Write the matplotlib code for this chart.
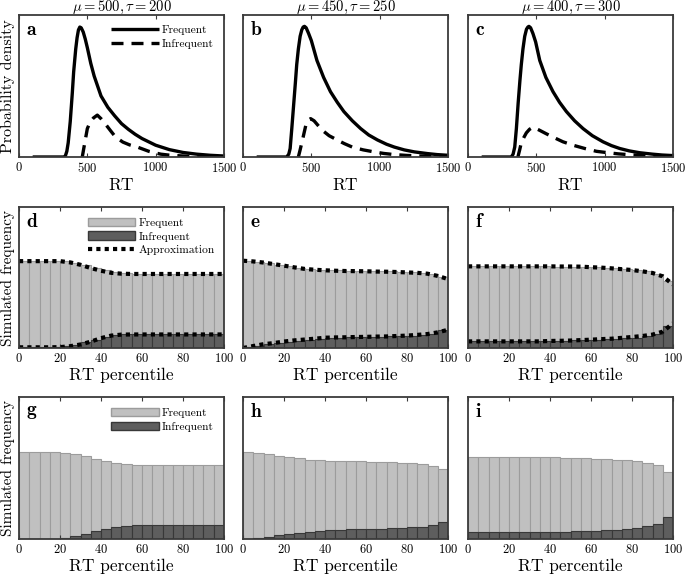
import matplotlib
matplotlib.use("Agg")
import matplotlib.pyplot as plt
from matplotlib.patches import Patch
from matplotlib.lines import Line2D
import numpy as np

plt.rcParams['font.family'] = 'cmr10'
plt.rcParams['mathtext.fontset'] = 'cm'
plt.rcParams['axes.unicode_minus'] = False
plt.rcParams['axes.formatter.use_mathtext'] = True

# ---- top row: densities ----
titles = [r'$\mu = 500, \tau = 200$', r'$\mu = 450, \tau = 250$', r'$\mu = 400, \tau = 300$']
letters = ['a', 'b', 'c', 'd', 'e', 'f', 'g', 'h', 'i']

rt_a = [100, 300, 330, 340, 350, 360, 375, 390, 400, 415, 425, 435, 445, 455, 470, 485, 500, 525, 550,
        600, 650, 700, 750, 800, 850, 900, 1000, 1100, 1200, 1300, 1400, 1500]
freq_a = [0, 0, 0, 0.01, 0.04, 0.1, 0.25, 0.45, 0.6, 0.76, 0.84, 0.895, 0.915, 0.91, 0.88, 0.83, 0.77,
          0.66, 0.57, 0.43, 0.35, 0.29, 0.235, 0.195, 0.16, 0.13, 0.083, 0.052, 0.032, 0.02, 0.012, 0.007]
rt_a_inf = [463, 472, 485, 500, 520, 545, 573, 600, 630, 670, 707, 760, 810, 866, 950, 1037, 1100, 1200, 1300, 1500]
inf_a = [0, 0.05, 0.12, 0.2, 0.245, 0.275, 0.295, 0.27, 0.235, 0.185, 0.14, 0.105, 0.085, 0.07, 0.04,
         0.02, 0.013, 0.007, 0.004, 0.001]

rt_b = [100, 320, 335, 345, 357, 370, 383, 393, 405, 418, 430, 440, 450, 462, 480, 500, 541, 590, 640,
        690, 738, 800, 861, 920, 984, 1050, 1107, 1180, 1254, 1350, 1420, 1500]
freq_b = [0, 0, 0.02, 0.06, 0.2, 0.36, 0.52, 0.65, 0.76, 0.85, 0.895, 0.915, 0.92, 0.91, 0.87, 0.82,
          0.68, 0.56, 0.46, 0.385, 0.32, 0.255, 0.2, 0.155, 0.12, 0.09, 0.07, 0.05, 0.036, 0.024, 0.017, 0.012]
rt_b_inf = [405, 418, 440, 460, 480, 495, 520, 578, 630, 689, 740, 799, 880, 959, 1030, 1107, 1200, 1300, 1500]
inf_b = [0, 0.05, 0.14, 0.225, 0.262, 0.27, 0.255, 0.19, 0.15, 0.12, 0.095, 0.07, 0.05, 0.036, 0.025,
         0.017, 0.011, 0.007, 0.003]

rt_c = [100, 317, 330, 342, 354, 367, 380, 390, 402, 415, 428, 438, 446, 458, 475, 495, 525, 570, 622,
        670, 720, 780, 842, 910, 988, 1050, 1110, 1180, 1257, 1350, 1420, 1500]
freq_c = [0, 0, 0.02, 0.07, 0.2, 0.38, 0.54, 0.65, 0.76, 0.85, 0.9, 0.915, 0.92, 0.91, 0.87, 0.81,
          0.68, 0.56, 0.46, 0.385, 0.32, 0.255, 0.2, 0.15, 0.107, 0.08, 0.06, 0.043, 0.03, 0.02, 0.014, 0.01]
rt_c_inf = [365, 378, 390, 410, 427, 450, 476, 520, 570, 622, 695, 769, 854, 940, 1025, 1100, 1200, 1300, 1500]
inf_c = [0, 0.05, 0.1, 0.14, 0.17, 0.195, 0.21, 0.19, 0.165, 0.14, 0.107, 0.083, 0.06, 0.04, 0.03,
         0.022, 0.015, 0.01, 0.004]

top_curves = [(rt_a, freq_a, rt_a_inf, inf_a), (rt_b, freq_b, rt_b_inf, inf_b), (rt_c, freq_c, rt_c_inf, inf_c)]

# ---- middle / bottom rows: bar heights per 5% percentile bin ----
pct = np.arange(2.5, 100, 5)
pct_grid = np.arange(0, 101, 5)

freq_d = [0.616, 0.616, 0.616, 0.616, 0.614, 0.605, 0.588, 0.569, 0.551, 0.536, 0.529,
          0.525, 0.525, 0.525, 0.525, 0.525, 0.525, 0.525, 0.525, 0.525]
inf_d = [0.005, 0.005, 0.005, 0.005, 0.012, 0.024, 0.04, 0.059, 0.078, 0.092, 0.096,
         0.096, 0.096, 0.096, 0.096, 0.096, 0.096, 0.096, 0.096, 0.096]
freq_e = [0.614, 0.607, 0.600, 0.591, 0.581, 0.569, 0.560, 0.555, 0.553, 0.551, 0.548, 0.546,
          0.546, 0.544, 0.544, 0.541, 0.539, 0.534, 0.527, 0.501]
inf_e = [0.007, 0.016, 0.026, 0.035, 0.045, 0.052, 0.059, 0.064, 0.071, 0.073, 0.075, 0.078,
         0.078, 0.08, 0.082, 0.082, 0.085, 0.089, 0.096, 0.125]
freq_f = [0.579, 0.579, 0.579, 0.579, 0.579, 0.579, 0.579, 0.579, 0.577, 0.577, 0.577, 0.574,
          0.572, 0.570, 0.565, 0.560, 0.553, 0.544, 0.527, 0.473]
inf_f = [0.047, 0.047, 0.047, 0.047, 0.047, 0.047, 0.050, 0.050, 0.052, 0.052, 0.054, 0.057,
         0.059, 0.061, 0.064, 0.069, 0.073, 0.083, 0.099, 0.154]

approx_top_d = [0.616, 0.616, 0.616, 0.616, 0.616, 0.607, 0.59, 0.567, 0.548, 0.533, 0.527,
                0.525, 0.525, 0.525, 0.525, 0.525, 0.525, 0.525, 0.525, 0.525, 0.525]
approx_bot_d = [0.005, 0.005, 0.005, 0.005, 0.006, 0.013, 0.025, 0.045, 0.07, 0.088, 0.095,
                0.096, 0.096, 0.096, 0.096, 0.096, 0.096, 0.096, 0.096, 0.096, 0.096]
approx_top_e = [0.619, 0.614, 0.606, 0.595, 0.584, 0.572, 0.561, 0.555, 0.551, 0.548, 0.546,
                0.545, 0.544, 0.542, 0.541, 0.539, 0.536, 0.533, 0.527, 0.511, 0.489]
approx_bot_e = [0.0, 0.014, 0.027, 0.035, 0.046, 0.054, 0.06, 0.066, 0.073, 0.075, 0.076,
                0.078, 0.079, 0.081, 0.082, 0.085, 0.088, 0.093, 0.099, 0.111, 0.129]
approx_top_f = [0.579, 0.579, 0.579, 0.579, 0.579, 0.579, 0.579, 0.579, 0.579, 0.578, 0.578,
                0.577, 0.573, 0.57, 0.565, 0.559, 0.553, 0.544, 0.532, 0.508, 0.45]
approx_bot_f = [0.047, 0.047, 0.047, 0.047, 0.047, 0.047, 0.047, 0.047, 0.05, 0.051, 0.053,
                0.056, 0.059, 0.063, 0.066, 0.072, 0.078, 0.085, 0.095, 0.116, 0.175]

freq_g = [0.616, 0.616, 0.614, 0.614, 0.609, 0.598, 0.581, 0.562, 0.548, 0.536, 0.525, 0.52,
          0.52, 0.52, 0.518, 0.518, 0.518, 0.518, 0.518, 0.518]
inf_g = [0, 0, 0, 0.002, 0.009, 0.019, 0.035, 0.054, 0.068, 0.082, 0.089, 0.096,
         0.096, 0.096, 0.099, 0.099, 0.096, 0.096, 0.096, 0.096]
freq_h = [0.612, 0.607, 0.600, 0.588, 0.576, 0.567, 0.558, 0.553, 0.551, 0.548, 0.546, 0.546,
          0.544, 0.541, 0.539, 0.536, 0.532, 0.525, 0.515, 0.492]
inf_h = [0.002, 0.009, 0.016, 0.026, 0.035, 0.045, 0.052, 0.059, 0.064, 0.066, 0.068, 0.068,
         0.071, 0.073, 0.075, 0.078, 0.082, 0.087, 0.096, 0.122]
freq_i = [0.576, 0.576, 0.576, 0.576, 0.576, 0.576, 0.576, 0.576, 0.574, 0.572, 0.569, 0.567,
          0.565, 0.562, 0.558, 0.553, 0.546, 0.536, 0.522, 0.471]
inf_i = [0.047, 0.047, 0.047, 0.047, 0.047, 0.047, 0.049, 0.049, 0.052, 0.052, 0.054, 0.056,
         0.059, 0.061, 0.066, 0.071, 0.078, 0.089, 0.106, 0.153]

mid_bars = [(freq_d, inf_d, approx_top_d, approx_bot_d), (freq_e, inf_e, approx_top_e, approx_bot_e),
            (freq_f, inf_f, approx_top_f, approx_bot_f)]
bot_bars = [(freq_g, inf_g), (freq_h, inf_h), (freq_i, inf_i)]

light = '#c0c0c0'
light_edge = '#9c9c9c'
dark = '#5e5e5e'
dark_edge = '#383838'
spine_col = '#3a3a3a'

fig = plt.figure(figsize=(6.85, 5.74), dpi=100)
lefts = [19 / 685, 243 / 685, 468 / 685]
width = 205 / 685
bottoms = [1 - 157 / 574, 1 - 348 / 574, 1 - 539 / 574]
heights = [142 / 574, 141 / 574, 142 / 574]

leg_kw = dict(loc='upper left', frameon=False, fontsize=8.3, handlelength=4.1,
              labelspacing=0.33, handletextpad=0.3, borderpad=0, borderaxespad=0)


def style(ax):
    for s in ax.spines.values():
        s.set_color(spine_col)
        s.set_linewidth(1.3)
    ax.tick_params(axis='x', direction='in', top=True, bottom=True, length=3,
                   color=spine_col, labelsize=9, pad=3)
    ax.set_yticks([])
    ax.set_ylim(0, 1)


axes = []
for r in range(3):
    for c in range(3):
        ax = fig.add_axes([lefts[c], bottoms[r], width, heights[r]])
        axes.append(ax)
        style(ax)
        ax.text(0.035, 0.955, r'$\mathbf{%s}$' % letters[r * 3 + c], transform=ax.transAxes,
                ha='left', va='top', fontsize=14)

# top row
for c in range(3):
    ax = axes[c]
    rt, fr, rti, inf = top_curves[c]
    ax.plot(rt, fr, color='black', lw=2.4, solid_capstyle='butt', label='Frequent')
    ax.plot(rti, inf, color='black', lw=2.4, dashes=(3.6, 2.4), label='Infrequent')
    ax.set_xlim(0, 1500)
    ax.set_xticks([0, 500, 1000, 1500])
    ax.set_title(titles[c], fontsize=10.5, pad=3)
    ax.set_xlabel('RT', fontsize=12.5, labelpad=2)
axes[0].set_ylabel('Probability density', fontsize=11.5, labelpad=3)
axes[0].legend(bbox_to_anchor=(0.45, 0.93), **leg_kw)

# middle row
for c in range(3):
    ax = axes[3 + c]
    fr, inf, at, ab = mid_bars[c]
    ax.bar(pct, fr, width=5, color=light, edgecolor=light_edge, lw=0.8)
    ax.bar(pct, inf, width=5, color=dark, edgecolor=dark_edge, lw=0.8)
    ax.plot(pct_grid, at, color='black', lw=3, dashes=(1, 1))
    ax.plot(pct_grid, ab, color='black', lw=3, dashes=(1, 1))
    ax.set_xlim(0, 100)
    ax.set_xticks([0, 20, 40, 60, 80, 100])
    ax.set_xlabel('RT percentile', fontsize=12.5, labelpad=2)
axes[3].set_ylabel('Simulated frequency', fontsize=11, labelpad=3)
h_mid = [Patch(facecolor=light, edgecolor=light_edge, label='Frequent'),
         Patch(facecolor=dark, edgecolor=dark_edge, label='Infrequent'),
         Line2D([], [], color='black', lw=3, dashes=(1, 1), label='Approximation')]
axes[3].legend(handles=h_mid, bbox_to_anchor=(0.335, 0.925), **leg_kw)

# bottom row
for c in range(3):
    ax = axes[6 + c]
    fr, inf = bot_bars[c]
    ax.bar(pct, fr, width=5, color=light, edgecolor=light_edge, lw=0.8)
    ax.bar(pct, inf, width=5, color=dark, edgecolor=dark_edge, lw=0.8)
    ax.set_xlim(0, 100)
    ax.set_xticks([0, 20, 40, 60, 80, 100])
    ax.set_xlabel('RT percentile', fontsize=12.5, labelpad=2)
axes[6].set_ylabel('Simulated frequency', fontsize=11, labelpad=3)
axes[6].legend(handles=h_mid[:2], bbox_to_anchor=(0.45, 0.92), **leg_kw)

fig.savefig('out.png', dpi=100)
